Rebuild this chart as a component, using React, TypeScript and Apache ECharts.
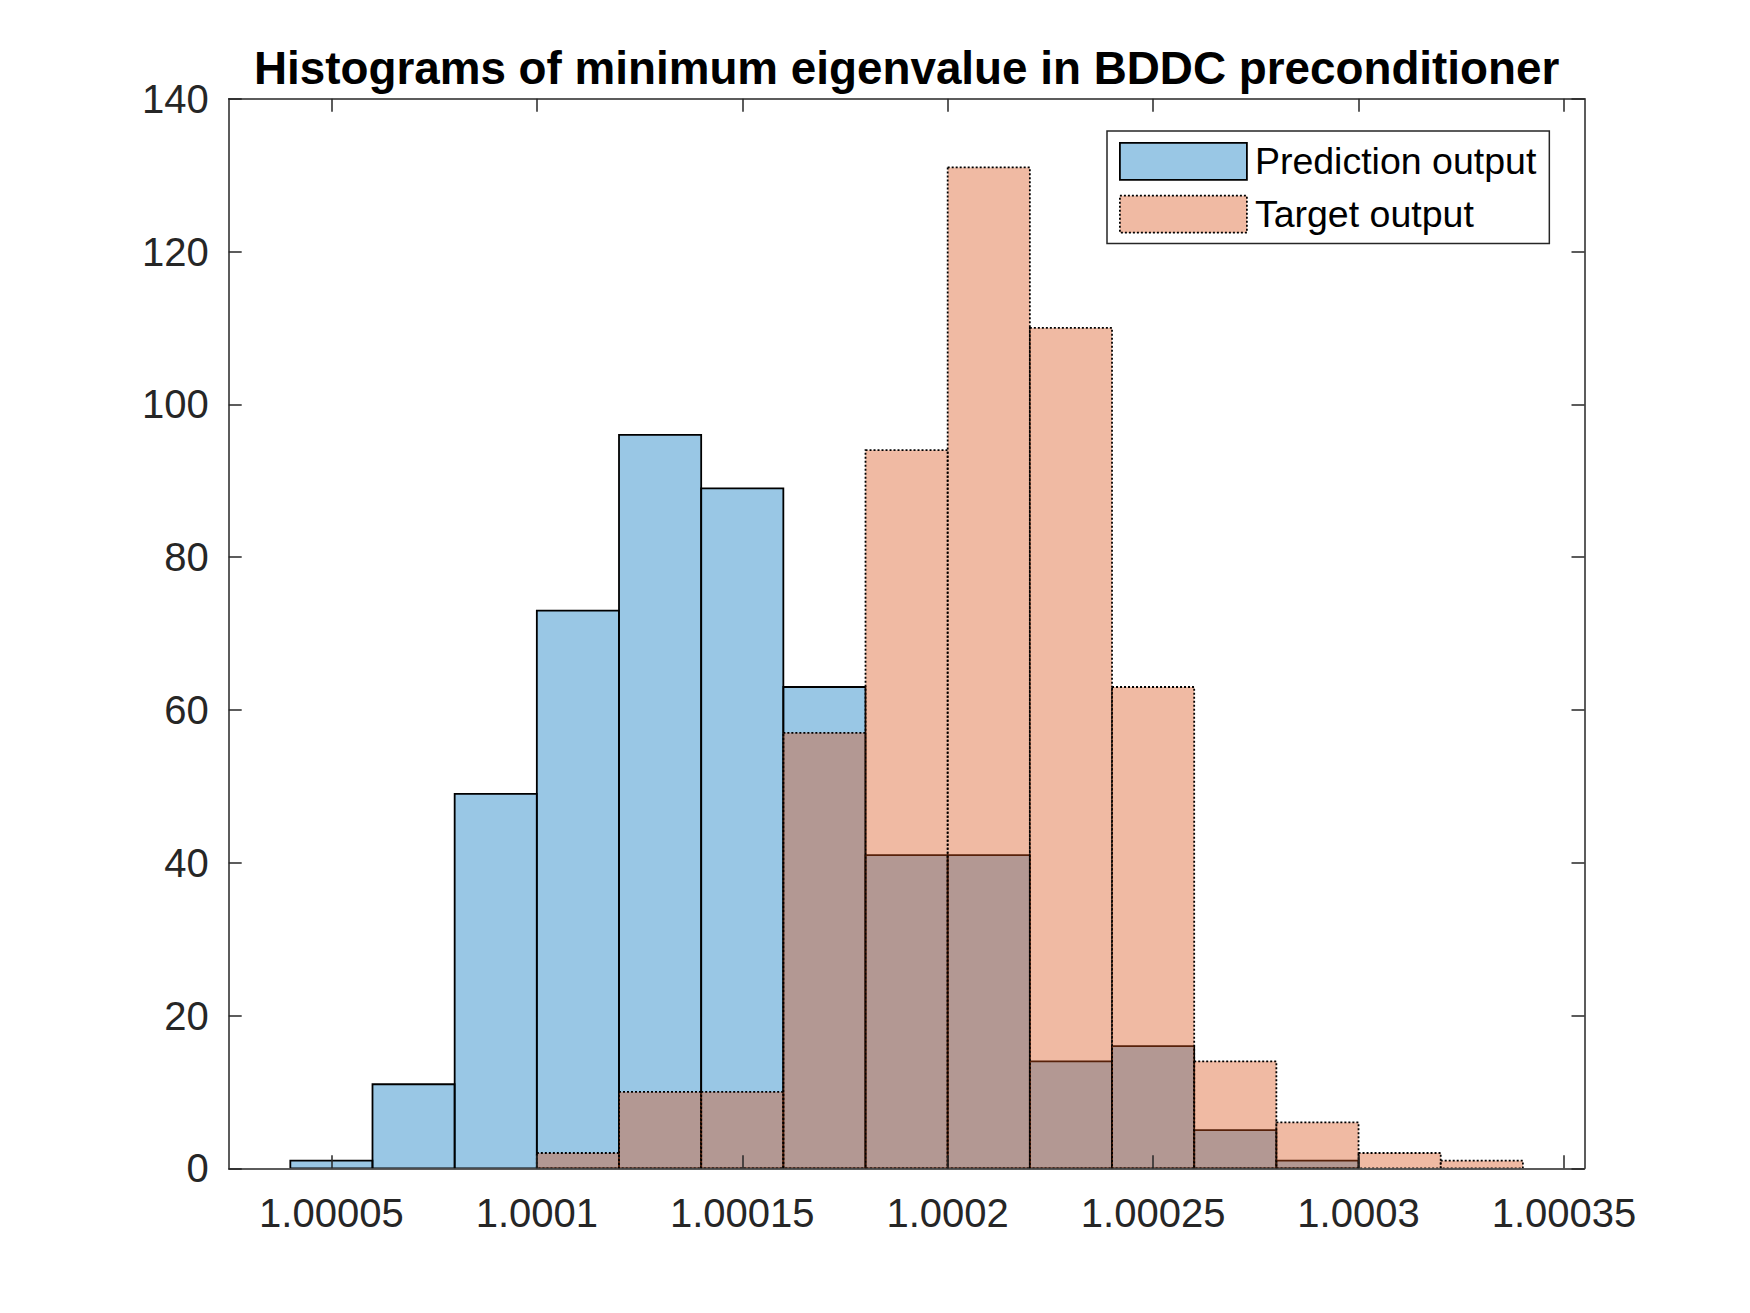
import React, { useEffect, useRef } from "react";
import * as echarts from "echarts";

// Histogram bin edges (bin width 0.00002)
const binEdges = [
  1.00004, 1.00006, 1.00008, 1.0001, 1.00012, 1.00014, 1.00016, 1.00018,
  1.0002, 1.00022, 1.00024, 1.00026, 1.00028, 1.0003, 1.00032, 1.00034,
];
const predictionCounts = [1, 11, 49, 73, 96, 89, 63, 41, 41, 14, 16, 5, 1, 0, 0];
const targetCounts = [0, 0, 0, 2, 10, 10, 57, 94, 131, 110, 63, 14, 6, 2, 1];

const seriesNames = ["Prediction output", "Target output"];
const xTickValues = [1.00005, 1.0001, 1.00015, 1.0002, 1.00025, 1.0003, 1.00035];
const xTickLabels = ["1.00005", "1.0001", "1.00015", "1.0002", "1.00025", "1.0003", "1.00035"];
const yTicks = [0, 20, 40, 60, 80, 100, 120, 140];
const xLimits = [1.000025, 1.000355];
const yLimits = [0, 140];
const titleText = "Histograms of minimum eigenvalue in BDDC preconditioner";

const FONT = "'Liberation Sans', Arial, Helvetica, sans-serif";
const AXIS_COLOR = "#262626";
const BLUE_FILL = "rgba(0,114,189,0.4)";
const ORANGE_FILL = "rgba(217,83,25,0.4)";

const GRID = { left: 228.7, top: 98.7, width: 1355.8, height: 1069.6 };

function binData(counts: number[]) {
  return counts.map((c, i) => [binEdges[i], binEdges[i + 1], c]);
}

function makeRender(fill: string, dash: number[] | null) {
  return (params: any, api: any) => {
    const x0 = api.value(0);
    const x1 = api.value(1);
    const c = api.value(2);
    if (!(c > 0)) return null;
    const tl = api.coord([x0, c]);
    const br = api.coord([x1, 0]);
    return {
      type: "rect",
      shape: { x: tl[0], y: tl[1], width: br[0] - tl[0], height: br[1] - tl[1] },
      style: {
        fill,
        stroke: "#000",
        lineWidth: 1.8,
        lineDash: dash || undefined,
      },
    };
  };
}

function labelFor(v: number) {
  for (let i = 0; i < xTickValues.length; i++) {
    if (Math.abs(v - xTickValues[i]) < 1e-9) return xTickLabels[i];
  }
  return "";
}

export default function App() {
  const ref = useRef<HTMLDivElement>(null);

  useEffect(() => {
    if (!ref.current) return;
    const chart = echarts.init(ref.current, undefined, { renderer: "svg" });

    const xAxisCommon = {
      type: "value",
      min: xLimits[0],
      max: xLimits[1],
      z: 5,
      splitLine: { show: false },
      axisLine: { show: true, onZero: false, lineStyle: { color: AXIS_COLOR, width: 1.5 } },
      axisTick: {
        show: true,
        inside: true,
        length: 13,
        customValues: xTickValues,
        lineStyle: { color: AXIS_COLOR, width: 1.5 },
      },
    };
    const yAxisCommon = {
      type: "value",
      min: yLimits[0],
      max: yLimits[1],
      interval: 20,
      z: 5,
      splitLine: { show: false },
      axisLine: { show: true, onZero: false, lineStyle: { color: AXIS_COLOR, width: 1.5 } },
      axisTick: { show: true, inside: true, length: 13, lineStyle: { color: AXIS_COLOR, width: 1.5 } },
    };

    const option: any = {
      animation: false,
      backgroundColor: "#ffffff",
      grid: { ...GRID, containLabel: false },
      graphic: [
        {
          type: "text",
          x: GRID.left + GRID.width / 2,
          y: 68,
          z: 10,
          style: {
            text: titleText,
            fill: "#000",
            font: `bold 45.8px ${FONT}`,
            textAlign: "center",
            textVerticalAlign: "middle",
          },
        },
      ],
      legend: {
        show: true,
        orient: "vertical",
        left: 1107,
        top: 131,
        padding: [11, 13, 10, 12],
        itemWidth: 127,
        itemHeight: 37,
        itemGap: 14,
        backgroundColor: "#ffffff",
        borderColor: AXIS_COLOR,
        borderWidth: 1.5,
        borderRadius: 0,
        selectedMode: false,
        textStyle: { fontSize: 37.5, fontFamily: FONT, color: "#000", padding: [0, 0, 0, 3] },
        data: [
          {
            name: seriesNames[0],
            icon: "rect",
            itemStyle: { color: BLUE_FILL, borderColor: "#000", borderWidth: 1.8 },
          },
          {
            name: seriesNames[1],
            icon: "rect",
            itemStyle: {
              color: ORANGE_FILL,
              borderColor: "#000",
              borderWidth: 1.8,
              borderType: [2, 2],
            },
          },
        ],
      },
      xAxis: [
        {
          ...xAxisCommon,
          position: "bottom",
          axisLabel: {
            show: true,
            customValues: xTickValues,
            formatter: (v: number) => labelFor(v),
            fontSize: 40,
            lineHeight: 40,
            margin: 25,
            color: AXIS_COLOR,
            fontFamily: FONT,
          },
        },
        {
          ...xAxisCommon,
          position: "top",
          axisLabel: { show: false },
        },
      ],
      yAxis: [
        {
          ...yAxisCommon,
          position: "left",
          axisLabel: {
            show: true,
            customValues: yTicks,
            fontSize: 40,
            margin: 20,
            color: AXIS_COLOR,
            fontFamily: FONT,
          },
        },
        {
          ...yAxisCommon,
          position: "right",
          axisLabel: { show: false },
        },
      ],
      series: [
        {
          name: seriesNames[0],
          type: "custom",
          xAxisIndex: 0,
          yAxisIndex: 0,
          clip: true,
          z: 2,
          itemStyle: { color: BLUE_FILL },
          encode: { x: [0, 1], y: 2 },
          data: binData(predictionCounts),
          renderItem: makeRender(BLUE_FILL, null),
        },
        {
          name: seriesNames[1],
          type: "custom",
          xAxisIndex: 0,
          yAxisIndex: 0,
          clip: true,
          z: 3,
          itemStyle: { color: ORANGE_FILL },
          encode: { x: [0, 1], y: 2 },
          data: binData(targetCounts),
          renderItem: makeRender(ORANGE_FILL, [2, 2]),
        },
      ],
    };

    chart.setOption(option);
    return () => {
      chart.dispose();
    };
  }, []);

  return (
    <div
      ref={ref}
      style={{ position: "absolute", left: 0, top: 0, width: 1750, height: 1313, background: "#fff" }}
    />
  );
}
